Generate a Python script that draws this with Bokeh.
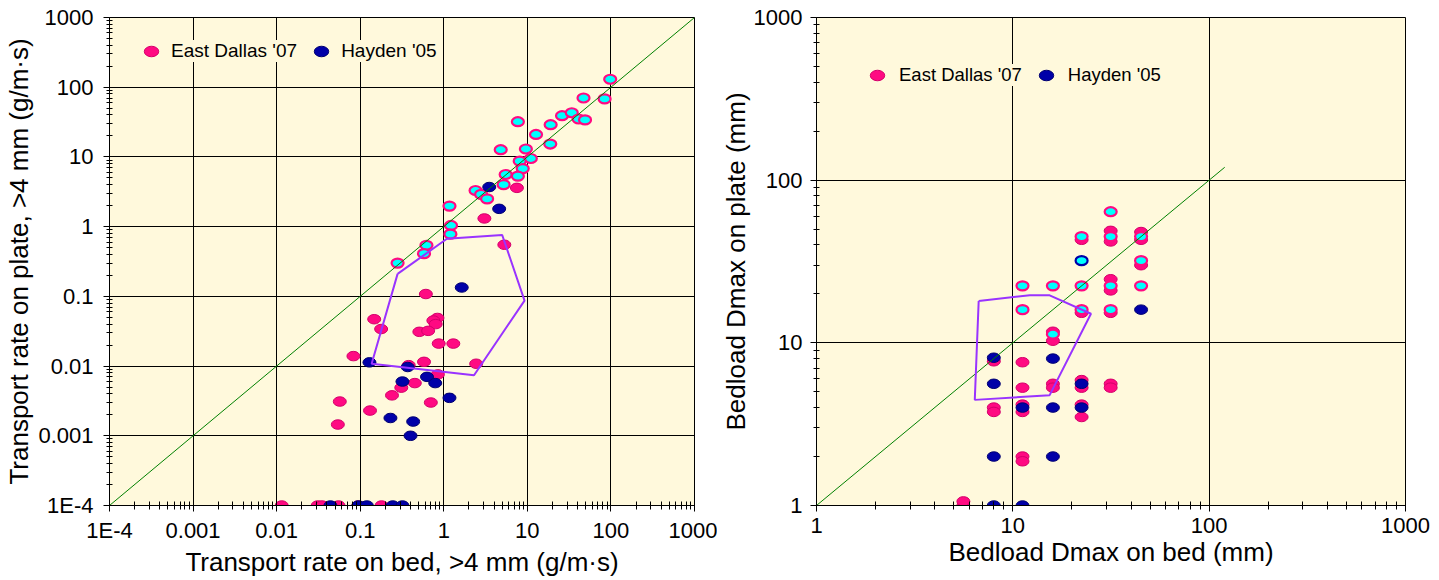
from bokeh.plotting import figure
from bokeh.models import (Range1d, FixedTicker, CustomJSTickFormatter, Legend,
                          LegendItem)
from bokeh.layouts import row
from bokeh.embed import file_html
from bokeh.resources import INLINE

# ---------------- data ----------------
left_ticks = [1e-4, 1e-3, 1e-2, 1e-1, 1, 10, 100, 1000]
left_tick_labels = ["1E-4", "0.001", "0.01", "0.1", "1", "10", "100", "1000"]
right_ticks = [1, 10, 100, 1000]
right_tick_labels = ["1", "10", "100", "1000"]

# Left panel: transport rates (g/m·s)
dallas_rate_bed = [7.5, 3.06, 5.3, 0.61, 0.147, 0.178, 0.84, 0.75, 0.80, 0.51,
                   0.65, 0.87, 1.3, 0.083, 0.58, 2.44, 0.38, 0.85, 0.45, 0.31,
                   0.24, 0.70, 0.057, 0.131, 0.054,
                   0.0115, 0.031, 0.035, 0.055, 0.095, 0.18]
dallas_rate_plate = [3.6, 1.31, 0.55, 0.108, 0.047, 0.034, 0.049, 0.045, 0.040, 0.031,
                     0.032, 0.021, 0.021, 0.0139, 0.0115, 0.0108, 0.0103, 0.0076, 0.0057, 0.0049,
                     0.0038, 0.0030, 0.0031, 0.0023, 0.00145,
                     1e-4, 1e-4, 1e-4, 1e-4, 1e-4, 1e-4]
dallas_coarse_rate_bed = [98, 47, 84, 26, 34, 41, 49, 7.7, 19, 12.7,
                          18.8, 4.8, 9.6, 11, 8.1, 8.8, 7.7, 5.5, 5.2, 2.4,
                          2.8, 3.3, 1.17, 1.22, 1.2, 0.62, 0.58, 0.28]
dallas_coarse_rate_plate = [130, 70, 68, 39, 43, 35, 34, 32, 29, 21,
                            15.3, 12.7, 13, 9.5, 8.7, 6.8, 5.3, 5.6, 4.0, 3.3,
                            2.9, 2.5, 1.97, 1.04, 0.78, 0.54, 0.41, 0.30]
hayden_rate_bed = [3.5, 4.6, 1.64, 0.129, 0.37, 0.63, 0.79, 0.32, 1.17, 0.23,
                   0.43, 0.40, 0.044, 0.095, 0.12, 0.245, 0.32]
hayden_rate_plate = [3.7, 1.8, 0.134, 0.0113, 0.0097, 0.007, 0.0057, 0.006, 0.0035, 0.0018,
                     0.0016, 0.001, 1e-4, 1e-4, 1e-4, 1e-4, 1e-4]
left_equal_line = [1e-4, 1000]
left_envelope_bed = [0.28, 1.09, 5.0, 9.25, 2.3, 0.137, 0.28]
left_envelope_plate = [0.21, 0.67, 0.76, 0.087, 0.0074, 0.0108, 0.21]

# Right panel: Dmax (mm)
dallas_dmax_bed = [5.6, 5.6, 8, 8, 8, 11.2, 11.2, 11.2, 11.2, 11.2,
                   11.2, 16, 16, 16, 16, 22.4, 22.4, 22.4, 22.4, 22.4,
                   22.4, 31.5, 31.5, 31.5, 31.5, 31.5, 31.5, 31.5, 45, 45, 45]
dallas_dmax_plate = [1.0, 1.06, 4.0, 3.76, 7.7, 7.6, 5.3, 4.17, 3.76, 2.0,
                     1.87, 5.6, 5.3, 11.7, 10.3, 5.9, 5.3, 4.17, 3.5, 15.3,
                     43, 5.6, 5.3, 15.3, 24.6, 21, 48.8, 42, 48, 43, 30]
dallas_coarse_dmax_bed = [11.2, 11.2, 16, 16, 22.4, 22.4, 22.4, 31.5, 31.5, 31.5, 31.5, 45, 45, 45]
dallas_coarse_dmax_plate = [16, 22.4, 22.4, 11.3, 16, 22.4, 45, 16, 22.4, 45, 64, 45, 32, 22.4]
hayden_coarse_dmax_bed = [22.4]
hayden_coarse_dmax_plate = [32]
hayden_dmax_bed = [8, 11.2, 8, 16, 11.2, 16, 22.4, 8, 22.4, 8, 16, 45]
hayden_dmax_plate = [1, 1, 2, 2, 4.0, 4.0, 4.0, 5.6, 5.6, 8.1, 8, 16]
right_equal_line = [1, 120]
right_envelope_bed = [6.7, 12.2, 15.4, 25, 15.4, 6.4, 6.7]
right_envelope_plate = [18.1, 19.6, 19.6, 15.1, 4.77, 4.46, 18.1]

# ---------------- style ----------------
BG = "#FFF9DC"
PINK = "#FF0A82"
PINK_EDGE = "#D4006A"
BLUE = "#0000A8"
BLUE_EDGE = "#000070"
CYAN = "#00FFFF"
GREEN = "#008000"
PURPLE = "#9933FF"
FONT = "Liberation Sans"

FMT_CODE = """
let best = 0; let bd = Infinity;
for (let i = 0; i < tvals.length; i++) {
  const d = Math.abs(Math.log10(tick) - Math.log10(tvals[i]));
  if (d < bd) { bd = d; best = i; }
}
return tlabels[best];
"""


def make_fig(width, border_left, border_right, ticks, labels, xlabel, ylabel,
             y_label_standoff, y_title_standoff):
    p = figure(width=width, height=580, x_axis_type="log", y_axis_type="log",
               x_range=Range1d(ticks[0], ticks[-1]), y_range=Range1d(ticks[0], ticks[-1]),
               output_backend="svg", toolbar_location=None,
               min_border_left=border_left, min_border_right=border_right,
               min_border_top=17, min_border_bottom=75,
               background_fill_color=BG, border_fill_color="white")
    p.outline_line_color = "black"
    p.outline_line_width = 1
    minor = [t * k for t in ticks[:-1] for k in range(2, 10)]
    for ax in (p.xaxis[0], p.yaxis[0]):
        ax.ticker = FixedTicker(ticks=ticks, minor_ticks=minor)
        ax.formatter = CustomJSTickFormatter(args=dict(tvals=ticks, tlabels=labels), code=FMT_CODE)
        ax.major_label_text_font = FONT
        ax.major_label_text_font_size = "22px"
        ax.major_label_text_color = "black"
        ax.axis_label_text_font = FONT
        ax.axis_label_text_font_size = "26px"
        ax.axis_label_text_font_style = "normal"
        ax.axis_label_text_color = "black"
        ax.axis_line_color = "black"
        ax.major_tick_line_color = "black"
        ax.minor_tick_line_color = "black"
    p.xaxis.axis_label = xlabel
    p.yaxis.axis_label = ylabel
    p.xaxis.major_tick_in = 6
    p.xaxis.major_tick_out = 6
    p.xaxis.minor_tick_in = 4
    p.xaxis.minor_tick_out = 4
    p.xaxis.major_label_standoff = 6
    p.xaxis.axis_label_standoff = 1
    p.yaxis.major_tick_in = 0
    p.yaxis.major_tick_out = 6
    p.yaxis.minor_tick_in = 3
    p.yaxis.minor_tick_out = 3
    p.yaxis.major_label_standoff = y_label_standoff
    p.yaxis.axis_label_standoff = y_title_standoff
    p.grid.grid_line_color = "black"
    p.grid.grid_line_width = 1
    p.grid.minor_grid_line_color = None
    return p


def points(p, x, y, fill, edge, w=13, h=9.5, lw=1):
    return p.ellipse(x=x, y=y, width=w, height=h, width_units="screen", height_units="screen",
                     fill_color=fill, line_color=edge, line_width=lw)


def add_legend(p, r_pink, r_blue, loc, pad, standoff, spacing, fsize):
    leg = Legend(items=[LegendItem(label="East Dallas '07", renderers=[r_pink]),
                        LegendItem(label="Hayden '05", renderers=[r_blue])],
                 location=loc, orientation="horizontal",
                 background_fill_color=BG, background_fill_alpha=1,
                 border_line_color=None, padding=pad, spacing=spacing,
                 label_standoff=standoff, glyph_width=18, glyph_height=18,
                 label_height=20, margin=0,
                 label_text_font=FONT, label_text_font_size=fsize,
                 label_text_color="black")
    p.add_layout(leg)


# ---------------- left panel ----------------
p1 = make_fig(717, 109, 23, left_ticks, left_tick_labels,
              "Transport rate on bed, >4 mm (g/m·s)",
              "Transport rate on plate, >4 mm (g/m·s)", 10, 1)
r1p = points(p1, dallas_rate_bed, dallas_rate_plate, PINK, PINK_EDGE)
points(p1, dallas_coarse_rate_bed, dallas_coarse_rate_plate, CYAN, PINK, w=12, h=9, lw=2.2)
r1b = points(p1, hayden_rate_bed, hayden_rate_plate, BLUE, BLUE_EDGE)
p1.line(left_equal_line, left_equal_line, line_color=GREEN, line_width=1)
p1.line(left_envelope_bed, left_envelope_plate, line_color=PURPLE, line_width=2)
add_legend(p1, r1p, r1b, (33, 443), 7, 11, 15, "19px")

# ---------------- right panel ----------------
p2 = make_fig(720, 98, 32, right_ticks, right_tick_labels,
              "Bedload Dmax on bed (mm)",
              "Bedload Dmax on plate (mm)", 8, 0)
r2p = points(p2, dallas_dmax_bed, dallas_dmax_plate, PINK, PINK_EDGE)
points(p2, dallas_coarse_dmax_bed, dallas_coarse_dmax_plate, CYAN, PINK, w=12, h=9, lw=2.2)
points(p2, hayden_coarse_dmax_bed, hayden_coarse_dmax_plate, CYAN, BLUE, w=12, h=9, lw=2.2)
r2b = points(p2, hayden_dmax_bed, hayden_dmax_plate, BLUE, BLUE_EDGE)
p2.line(right_equal_line, right_equal_line, line_color=GREEN, line_width=1)
p2.line(right_envelope_bed, right_envelope_plate, line_color=PURPLE, line_width=2)
add_legend(p2, r2p, r2b, (52, 419), 13, 13, 15, "18.5px")

layout = row(p1, p2)
open("out.html", "w").write(file_html(layout, INLINE))
